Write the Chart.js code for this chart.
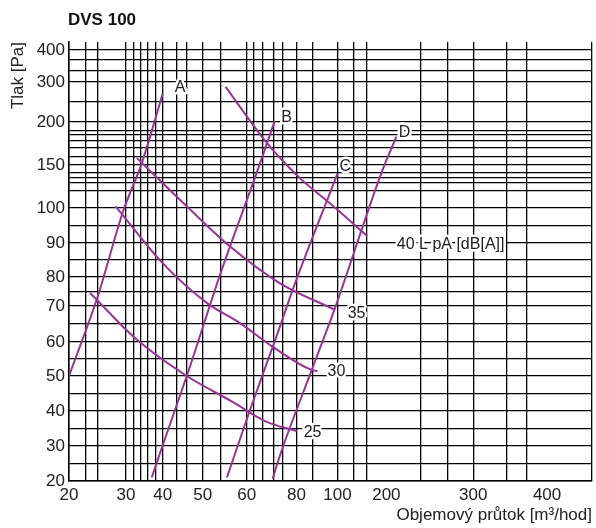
<!DOCTYPE html>
<html>
<head>
<meta charset="utf-8">
<title>DVS 100</title>
<script src="https://cdn.jsdelivr.net/npm/chart.js@4/dist/chart.umd.min.js"></script>
<style>
  html, body { margin: 0; padding: 0; background: #fff; }
  #wrap { width: 596px; height: 528px; }
</style>
</head>
<body>
<div id="wrap"><canvas id="chart" width="596" height="528"></canvas></div>
<script>
// Tick labels and grid lines of the (scanned, irregular) diagram
const xLabels = [20, 30, 40, 50, 60, 80, 100, 200, 300, 400];
const xGrid = [20, 23, 25, 30, 32, 34, 36, 38, 40, 43.5, 46, 50, 54, 60, 63, 66.5, 71, 74.5, 80, 88, 100, 133, 160, 240, 270, 300, 345, 372, 461];
const yLabels = [20, 30, 40, 50, 60, 70, 80, 90, 100, 150, 200, 300, 400];
const yGrid = [20, 25, 30, 35, 40, 45, 50, 55, 60, 65, 70, 75, 80, 85, 90, 95, 100, 120, 130, 135, 141, 150, 160, 170, 178, 185, 190, 200, 250, 300, 335, 370, 400];

// Characteristic lines A-D  [m3/h, Pa]
const lineA = [[20, 50], [25, 73], [29.5, 99], [34.3, 152], [40, 272]];
const lineB = [[37, 21], [40, 30.3], [46, 50], [54.3, 82], [64.4, 144], [71.2, 202]];
const lineC = [[55.5, 21], [61.2, 40], [73.2, 64], [78.4, 75.5], [100, 140]];
const lineD = [[70.4, 20.6], [73.2, 27], [87.8, 52.4], [98.5, 69], [192, 144], [211.5, 183]];

// Noise lines LpA [dB(A)]
const noise40 = [[55.2, 288], [68, 176], [81.5, 135], [96, 106], [161, 92]];
const noise35 = [[33, 158], [46, 102], [56.1, 89.1], [73.2, 77.9], [98.5, 69]];
const noise30 = [[28.2, 102], [40, 84], [51, 71], [58.4, 65.3], [71.2, 58.2], [87.3, 51.8], [90.2, 51.5]];
const noise25 = [[23.7, 74.5], [33, 60.6], [46, 50], [56.8, 42.6], [68, 36.9], [80, 34.3]];

const curveLabels = [
    { text: 'A', x: 44.3, y: 287 },
    { text: 'B', x: 76, y: 212 },
    { text: 'C', x: 116, y: 148 },
    { text: 'D', x: 221, y: 188 },
    { text: '40 L pA [dB[A]]', x: 212, y: 89.4, align: 'left' },
    { text: '35', x: 139, y: 67.8 },
    { text: '30', x: 99.5, y: 51.2 },
    { text: '25', x: 87.8, y: 33.7 }
];

// Scale shape: value -> relative distance along the axis, as printed on the sheet
const axisAnchors = {
    x: [[20, 0], [30, 57], [40, 94], [50, 134], [60, 178], [80, 228], [100, 269], [200, 318], [300, 405], [400, 479], [461, 524]],
    y: [[20, 0], [30, 35], [40, 70], [50, 105], [60, 139], [70, 175], [80, 204], [90, 238], [100, 273], [150, 316], [200, 359], [300, 399], [400, 431], [425, 439]]
};

class PiecewiseScale extends Chart.LinearScale {
    static id = 'piecewise';
    static defaults = Chart.LinearScale.defaults;

    unitOf(v) {
        const a = axisAnchors[this.axis];
        let i = 1;
        while (i < a.length - 1 && v > a[i][0]) i++;
        const [v0, u0] = a[i - 1], [v1, u1] = a[i];
        return u0 + (v - v0) * (u1 - u0) / (v1 - v0);
    }

    getPixelForValue(value) {
        if (value === null || value === undefined) return NaN;
        const lo = this.unitOf(this.min), hi = this.unitOf(this.max);
        return this.getPixelForDecimal((this.unitOf(value) - lo) / (hi - lo));
    }

    getValueForPixel(pixel) {
        const a = axisAnchors[this.axis];
        const lo = this.unitOf(this.min), hi = this.unitOf(this.max);
        const u = lo + this.getDecimalForPixel(pixel) * (hi - lo);
        let i = 1;
        while (i < a.length - 1 && u > a[i][1]) i++;
        const [v0, u0] = a[i - 1], [v1, u1] = a[i];
        return v0 + (u - u0) * (v1 - v0) / (u1 - u0);
    }
}
Chart.register(PiecewiseScale);

const FONT = "'Liberation Sans', Arial, sans-serif";
const PURPLE = '#993399';
Chart.defaults.font.family = FONT;
Chart.defaults.color = '#222';

const toPoints = arr => arr.map(p => ({ x: p[0], y: p[1] }));
const series = [lineA, lineB, lineC, lineD, noise40, noise35, noise30, noise25];

const datasets = series.map(s => ({
    data: toPoints(s),
    borderColor: PURPLE,
    borderWidth: 2,
    pointRadius: 0,
    cubicInterpolationMode: 'monotone',
    fill: false
}));

function axisOptions(labels, grid, min, max) {
    const labelSet = new Set(labels);
    const gridSet = new Set(grid);
    const ticks = Array.from(new Set(labels.concat(grid))).sort((a, b) => a - b);
    return {
        type: 'piecewise',
        min: min,
        max: max,
        afterBuildTicks: scale => { scale.ticks = ticks.map(v => ({ value: v })); },
        grid: {
            color: c => (c.tick && gridSet.has(c.tick.value)) ? '#000' : 'rgba(0,0,0,0)',
            lineWidth: 1.3,
            drawTicks: false
        },
        border: { display: true, color: '#000', width: 1.5 },
        ticks: {
            autoSkip: false,
            maxRotation: 0,
            padding: 4,
            color: '#222',
            font: { size: 17 },
            callback: v => labelSet.has(v) ? String(v) : ''
        }
    };
}

const xAxis = axisOptions(xLabels, xGrid, 20, 461);
xAxis.afterFit = scale => { scale.height = 47; };
xAxis.title = {
    display: true,
    text: 'Objemový průtok [m³/hod]',
    align: 'end',
    color: '#222',
    font: { size: 17 },
    padding: { top: 0, bottom: 2 }
};

const yAxis = axisOptions(yLabels, yGrid, 20, 425);
yAxis.afterFit = scale => { scale.width = 69; };
yAxis.title = {
    display: true,
    text: 'Tlak [Pa]',
    align: 'end',
    color: '#222',
    font: { size: 17 },
    padding: { top: 8, bottom: 0 }
};

// Title and curve labels with a white halo, like on the printed sheet
const textPlugin = {
    id: 'curveText',
    afterDraw(chart) {
        const { ctx, scales } = chart;
        ctx.save();
        ctx.font = 'bold 17px ' + FONT;
        ctx.fillStyle = '#111';
        ctx.textAlign = 'left';
        ctx.textBaseline = 'middle';
        ctx.fillText('DVS 100', 68, 20);

        ctx.font = '16px ' + FONT;
        ctx.lineJoin = 'round';
        curveLabels.forEach(l => {
            const px = scales.x.getPixelForValue(l.x);
            const py = scales.y.getPixelForValue(l.y);
            ctx.textAlign = l.align || 'center';
            ctx.strokeStyle = '#fff';
            ctx.lineWidth = 5;
            ctx.strokeText(l.text, px, py);
            ctx.fillStyle = '#222';
            ctx.fillText(l.text, px, py);
        });
        ctx.restore();
    }
};

new Chart(document.getElementById('chart').getContext('2d'), {
    type: 'line',
    data: { datasets: datasets },
    options: {
        responsive: false,
        animation: false,
        layout: { padding: { top: 42, right: 3, bottom: 0, left: 0 } },
        plugins: {
            legend: { display: false },
            tooltip: { enabled: false }
        },
        scales: { x: xAxis, y: yAxis }
    },
    plugins: [textPlugin]
});
</script>
</body>
</html>
